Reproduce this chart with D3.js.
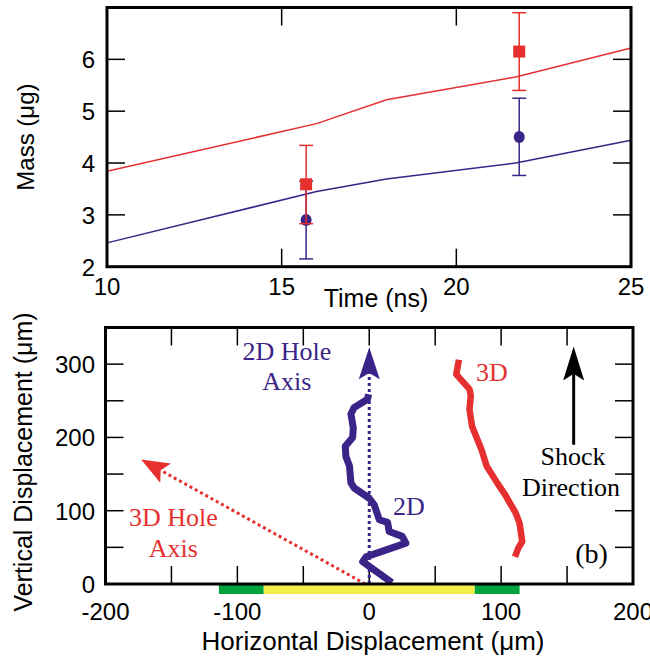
<!DOCTYPE html>
<html>
<head>
<meta charset="utf-8">
<script src="https://cdn.jsdelivr.net/npm/d3@7"></script>
<style>
  body { margin: 0; background: #fff; }
  text { font-family: "Liberation Sans", Arial, sans-serif; }
  .serif { font-family: "Liberation Serif", "Times New Roman", serif; }
</style>
</head>
<body>
<script>
// ---- top panel data: mass vs time ----
let modelTime = [10, 16, 18, 21.7, 25];
let model3D = [3.84, 4.76, 5.22, 5.66, 6.22];
let model2D = [2.46, 3.45, 3.69, 4.0, 4.44];
let measTime = [15.7, 21.8];
let meas3D = [3.59, 6.15];
let meas3DLow = [2.83, 5.40];
let meas3DHigh = [4.34, 6.90];
let meas2D = [2.9, 4.5];
let meas2DLow = [2.15, 3.76];
let meas2DHigh = [3.65, 5.25];
let timeTicks = [10, 15, 20, 25];
let massLabels = [2, 3, 4, 5, 6];

// ---- bottom panel data: displacement traces ----
let trace2DX = [17.2, -5, -2.5, 27.8, 25, 15.1, 13.9, 7.6, 3.8, 0, -11.4, -13.9, -15, -17.7, -18.2, -12.6, -12.1, -13.9, -11.4, -1.3, -0.5];
let trace2DY = [2, 30.5, 37, 55.7, 65, 71.7, 84, 87.7, 108, 117, 131, 138, 161, 174, 188, 200, 213, 232, 241, 252, 259];
let trace3DX = [68, 66, 76, 77, 76, 78, 85, 89, 97, 103, 111, 114, 116, 113, 110.5];
let trace3DY = [306, 286, 266, 257, 238, 215, 184, 161, 138, 122, 97, 83, 58, 49, 37];
let axis2DX = [0, 0];
let axis2DY = [0, 323];
let axis3DX = [-3, -173];
let axis3DY = [0, 170];
let shockX = [155, 155];
let shockY = [190, 324];
let footEdges = [-114, -80, 80, 114];
let footColors = ['#00a33c', '#f5ee4a', '#00a33c'];
let hLabels = [-200, -100, 0, 100, 200];
let vLabels = [0, 100, 200, 300];

let red = '#e5302f', purple = '#3a2487';
let width = 650, height = 656;

let svg = d3.select('body').append('svg')
    .attr('width', width)
    .attr('height', height);

// ================= top panel =================
let boxT = { left: 107, right: 631, top: 7.5, bottom: 266.7 };

let xT = d3.scaleLinear().domain([10, 25]).range([boxT.left, boxT.right]);
let yT = d3.scaleLinear().domain([2, 7]).range([boxT.bottom, boxT.top]);

let gT = svg.append('g');

// inward ticks on all sides
let tickLen = 18;
gT.selectAll('.xtb').data(timeTicks.slice(1, 3)).enter().append('line')
    .attr('x1', d => xT(d)).attr('x2', d => xT(d))
    .attr('y1', boxT.bottom).attr('y2', boxT.bottom - tickLen)
    .attr('stroke', '#000').attr('stroke-width', 1.5);
gT.selectAll('.xtt').data(timeTicks.slice(1, 3)).enter().append('line')
    .attr('x1', d => xT(d)).attr('x2', d => xT(d))
    .attr('y1', boxT.top).attr('y2', boxT.top + tickLen)
    .attr('stroke', '#000').attr('stroke-width', 1.5);
gT.selectAll('.ytl').data(massLabels.slice(1)).enter().append('line')
    .attr('x1', boxT.left).attr('x2', boxT.left + tickLen)
    .attr('y1', d => yT(d)).attr('y2', d => yT(d))
    .attr('stroke', '#000').attr('stroke-width', 1.5);
gT.selectAll('.ytr').data(massLabels.slice(1)).enter().append('line')
    .attr('x1', boxT.right).attr('x2', boxT.right - tickLen)
    .attr('y1', d => yT(d)).attr('y2', d => yT(d))
    .attr('stroke', '#000').attr('stroke-width', 1.5);

// tick labels
gT.selectAll('.xl').data(timeTicks).enter().append('text')
    .attr('x', d => xT(d)).attr('y', 295)
    .attr('text-anchor', 'middle')
    .style('font-size', '24px')
    .text(d => d);
gT.selectAll('.yl').data(massLabels).enter().append('text')
    .attr('x', 95).attr('y', d => yT(d) + 9)
    .attr('text-anchor', 'end')
    .style('font-size', '24px')
    .text(d => d);

gT.append('text')
    .attr('x', 376).attr('y', 307)
    .attr('text-anchor', 'middle')
    .style('font-size', '25px')
    .text('Time (ns)');
gT.append('text')
    .attr('transform', `translate(34,${(boxT.top + boxT.bottom) / 2}) rotate(-90)`)
    .attr('text-anchor', 'middle')
    .style('font-size', '24px')
    .text('Mass (μg)');

// model lines
let lineT = d3.line().x(d => xT(d[0])).y(d => yT(d[1]));
gT.append('path')
    .attr('d', lineT(modelTime.map((t, i) => [t, model2D[i]])))
    .attr('fill', 'none').attr('stroke', purple).attr('stroke-width', 1.5);
gT.append('path')
    .attr('d', lineT(modelTime.map((t, i) => [t, model3D[i]])))
    .attr('fill', 'none').attr('stroke', red).attr('stroke-width', 1.5);

// error bars + markers
function errorBars(vals, low, high, color) {
    let g = gT.append('g').attr('stroke', color).attr('stroke-width', 1.5);
    measTime.forEach((t, i) => {
        g.append('line').attr('x1', xT(t)).attr('x2', xT(t))
            .attr('y1', yT(low[i])).attr('y2', yT(high[i]));
        [low[i], high[i]].forEach(v => {
            g.append('line').attr('x1', xT(t) - 7).attr('x2', xT(t) + 7)
                .attr('y1', yT(v)).attr('y2', yT(v));
        });
    });
}
errorBars(meas2D, meas2DLow, meas2DHigh, purple);
gT.selectAll('.dot').data(measTime).enter().append('ellipse')
    .attr('cx', d => xT(d)).attr('cy', (d, i) => yT(meas2D[i]))
    .attr('rx', 5.5).attr('ry', 6)
    .attr('fill', purple);
errorBars(meas3D, meas3DLow, meas3DHigh, red);
gT.selectAll('.sq').data(measTime).enter().append('rect')
    .attr('x', d => xT(d) - 6).attr('y', (d, i) => yT(meas3D[i]) - 6)
    .attr('width', 12).attr('height', 12)
    .attr('fill', red);

gT.append('rect')
    .attr('x', boxT.left).attr('y', boxT.top)
    .attr('width', boxT.right - boxT.left).attr('height', boxT.bottom - boxT.top)
    .attr('fill', 'none').attr('stroke', '#000').attr('stroke-width', 3);

// ================= bottom panel =================
let boxB = { left: 105.5, right: 633, top: 327.5, bottom: 584 };
let xB = d3.scaleLinear().domain([-200, 200]).range([boxB.left, boxB.right]);
let yB = d3.scaleLinear().domain([0, 350]).range([boxB.bottom, boxB.top]);

let gB = svg.append('g');

let hTicks = d3.range(-150, 200, 50);
let vTicks = d3.range(50, 350, 50);
gB.selectAll('.bxb').data(hTicks).enter().append('line')
    .attr('x1', d => xB(d)).attr('x2', d => xB(d))
    .attr('y1', boxB.bottom).attr('y2', boxB.bottom - tickLen)
    .attr('stroke', '#000').attr('stroke-width', 1.5);
gB.selectAll('.bxt').data(hTicks).enter().append('line')
    .attr('x1', d => xB(d)).attr('x2', d => xB(d))
    .attr('y1', boxB.top).attr('y2', boxB.top + tickLen)
    .attr('stroke', '#000').attr('stroke-width', 1.5);
gB.selectAll('.byl').data(vTicks).enter().append('line')
    .attr('x1', boxB.left).attr('x2', boxB.left + tickLen)
    .attr('y1', d => yB(d)).attr('y2', d => yB(d))
    .attr('stroke', '#000').attr('stroke-width', 1.5);
gB.selectAll('.byr').data(vTicks).enter().append('line')
    .attr('x1', boxB.right).attr('x2', boxB.right - tickLen)
    .attr('y1', d => yB(d)).attr('y2', d => yB(d))
    .attr('stroke', '#000').attr('stroke-width', 1.5);

gB.selectAll('.hl').data(hLabels).enter().append('text')
    .attr('x', d => xB(d)).attr('y', 620)
    .attr('text-anchor', 'middle')
    .style('font-size', '24px')
    .text(d => d);
gB.selectAll('.vl').data(vLabels).enter().append('text')
    .attr('x', 95).attr('y', d => yB(d) + 9)
    .attr('text-anchor', 'end')
    .style('font-size', '24px')
    .text(d => d);

gB.append('text')
    .attr('x', 373).attr('y', 650)
    .attr('text-anchor', 'middle')
    .style('font-size', '26px')
    .text('Horizontal Displacement  (μm)');
gB.append('text')
    .attr('transform', `translate(32,462) rotate(-90)`)
    .attr('text-anchor', 'middle')
    .style('font-size', '25px')
    .text('Vertical Displacement (μm)');

// foot bar below the axis
gB.selectAll('.foot').data(footColors).enter().append('rect')
    .attr('x', (d, i) => xB(footEdges[i]))
    .attr('y', boxB.bottom)
    .attr('width', (d, i) => xB(footEdges[i + 1]) - xB(footEdges[i]))
    .attr('height', 10)
    .attr('fill', d => d);

// arrowhead helper (barbed)
function arrowHead(x0, y0, x1, y1, len, wid, color) {
    let ang = Math.atan2(y1 - y0, x1 - x0) * 180 / Math.PI;
    gB.append('path')
        .attr('d', `M0,0 L${-len},${-wid / 2} L${-len * 0.8},0 L${-len},${wid / 2} Z`)
        .attr('transform', `translate(${x1},${y1}) rotate(${ang})`)
        .attr('fill', color);
}

function arrow(xs, ys, color, dashed, len, wid) {
    let x0 = xB(xs[0]), y0 = yB(ys[0]), x1 = xB(xs[1]), y1 = yB(ys[1]);
    let d = Math.hypot(x1 - x0, y1 - y0);
    let ex = x1 - (x1 - x0) / d * len * 0.8, ey = y1 - (y1 - y0) / d * len * 0.8;
    gB.append('line')
        .attr('x1', x0).attr('y1', y0).attr('x2', ex).attr('y2', ey)
        .attr('stroke', color).attr('stroke-width', 3)
        .attr('stroke-dasharray', dashed ? '3,3' : null);
    arrowHead(x0, y0, x1, y1, len, wid, color);
}

arrow(axis3DX, axis3DY, red, true, 28, 22);
arrow(axis2DX, axis2DY, purple, true, 32, 21);
arrow(shockX, shockY, '#000', false, 34, 21);

let lineB = d3.line().x(d => xB(d[0])).y(d => yB(d[1]));
gB.append('path')
    .attr('d', lineB(trace2DX.map((x, i) => [x, trace2DY[i]])))
    .attr('fill', 'none').attr('stroke', purple)
    .attr('stroke-width', 7).attr('stroke-linejoin', 'round');
gB.append('path')
    .attr('d', lineB(trace3DX.map((x, i) => [x, trace3DY[i]])))
    .attr('fill', 'none').attr('stroke', red)
    .attr('stroke-width', 6.5).attr('stroke-linejoin', 'round');

// annotations
function note(txt, x, y, color, anchor, size) {
    gB.append('text').attr('class', 'serif')
        .attr('x', xB(x)).attr('y', yB(y))
        .attr('text-anchor', anchor || 'middle')
        .attr('fill', color)
        .style('font-size', (size || 26) + 'px')
        .text(txt);
}
note('2D Hole', -62.5, 306, purple);
note('Axis', -62.5, 265, purple);
note('3D', 81, 277, red, 'start');
note('2D', 18, 94, purple, 'start');
note('Shock', 154.5, 162, '#000');
note('Direction', 153, 120, '#000');
note('3D Hole', -148.5, 79, red);
note('Axis', -148.5, 37, red);
note('(b)', 168.5, 29, '#000', 'middle', 28);

gB.append('rect')
    .attr('x', boxB.left).attr('y', boxB.top)
    .attr('width', boxB.right - boxB.left).attr('height', boxB.bottom - boxB.top)
    .attr('fill', 'none').attr('stroke', '#000').attr('stroke-width', 3);
</script>
</body>
</html>
